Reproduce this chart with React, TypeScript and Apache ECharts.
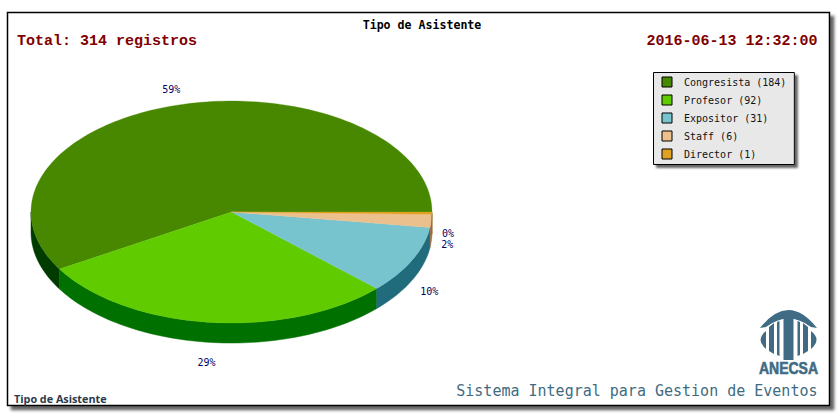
import React, { useEffect, useRef } from "react";
import * as echarts from "echarts";

const categories = ["Congresista", "Profesor", "Expositor", "Staff", "Director"];
const values = [184, 92, 31, 6, 1];
const topColors = ["#488800", "#60CC00", "#78C4CE", "#ECC08C", "#E0A020"];
const sideColors = ["#003C00", "#007000", "#206C7C", "#A07048", "#906010"];
const labelNudgeX = [-2, -1, 1, -2, -2];
const labelNudgeY = [2, 1, 2, 1, -1];
const titleText = "Tipo de Asistente";
const totalText = "Total: 314 registros";
const dateText = "2016-06-13 12:32:00";
const footerText = "Sistema Integral para Gestion de Eventos";
const captionText = "Tipo de Asistente";
const logoText = "ANECSA";

const LOGO_PATH =
  "M10 23 Q38.5 -13 67 23 L61 22 Q38.5 5 16 22 Z " +
  "M33.5 12 L43.5 12 L43.5 55 L33.5 55 Z " +
  "M16 26 Q5 34.5 16 44 Z M61 26 Q72 34.5 61 44 Z " +
  "M19 22 L24 18 L24 49 L19 46 Z M58 22 L53 18 L53 49 L58 46 Z " +
  "M27 17 L29.5 16 L29.5 51 L27 50 Z M50 17 L47.5 16 L47.5 51 L50 50 Z";

echarts.graphic.registerShape("anecsaLogo", (echarts.graphic as any).extendPath(LOGO_PATH, {}));

const CX = 231.5;
const CY = 212;
const RX = 200.5;
const RY = 111;
const DEPTH = 20;
const total = values.reduce((a, b) => a + b, 0);

function pt(deg: number, dy = 0): number[] {
  const a = (deg * Math.PI) / 180;
  return [CX + RX * Math.cos(a), CY - RY * Math.sin(a) + dy];
}

function arc(from: number, to: number, dy = 0): number[][] {
  const pts: number[][] = [];
  const n = Math.max(1, Math.ceil((to - from) / 1.5));
  for (let i = 0; i <= n; i++) pts.push(pt(from + ((to - from) * i) / n, dy));
  return pts;
}

function sliceRender(index: number) {
  const before = values.slice(0, index).reduce((a, b) => a + b, 0);
  const start = (before / total) * 360;
  const end = ((before + values[index]) / total) * 360;
  const mid = (start + end) / 2;
  return () => {
    const children: any[] = [];
    const sFrom = Math.max(start, 180);
    if (end > sFrom) {
      const upper = arc(sFrom, end);
      const lower = arc(sFrom, end, DEPTH).reverse();
      children.push({
        type: "polygon",
        shape: { points: upper.concat(lower) },
        style: { fill: sideColors[index], stroke: sideColors[index], lineWidth: 0.5 },
      });
    }
    children.push({
      type: "polygon",
      shape: { points: [[CX, CY]].concat(arc(start, end)) },
      style: { fill: topColors[index], stroke: topColors[index], lineWidth: 0.3 },
    });
    const a = (mid * Math.PI) / 180;
    const lx = pt(mid)[0] + 18 * Math.cos(a) + labelNudgeX[index];
    const ly = pt(mid)[1] - 18 * Math.sin(a) + (mid > 180 ? DEPTH + 1 : 0) + labelNudgeY[index];
    children.push({
      type: "text",
      x: lx,
      y: ly,
      style: {
        text: `${Math.round((values[index] / total) * 100)}%`,
        fill: "#000066",
        font: '10px "DejaVu Sans Mono"',
        align: "center",
        verticalAlign: "middle",
      },
    });
    return { type: "group", children };
  };
}

export default function App() {
  const ref = useRef<HTMLDivElement>(null);
  useEffect(() => {
    document.body.style.margin = "0";
    const chart = echarts.init(ref.current!, undefined, { renderer: "svg" });
    const mono = '"DejaVu Sans Mono"';
    chart.setOption({
      animation: false,
      backgroundColor: "#ffffff",
      legend: {
        orient: "vertical",
        left: 653.5,
        top: 72.5,
        padding: [4, 8, 5, 8],
        itemWidth: 10,
        itemHeight: 10,
        itemGap: 7,
        selectedMode: false,
        backgroundColor: "#E8E8E8",
        borderColor: "#000000",
        borderWidth: 1,
        borderRadius: 0,
        shadowColor: "rgba(60,60,60,0.8)",
        shadowBlur: 2,
        shadowOffsetX: 3,
        shadowOffsetY: 3,
        icon: "rect",
        itemStyle: { borderColor: "#000000", borderWidth: 1 },
        textStyle: { fontFamily: "DejaVu Sans Mono", fontSize: 10, color: "#111111", padding: [0, 0, 0, 7] },
        data: categories,
        formatter: (name: string) => `${name} (${values[categories.indexOf(name)]})`,
      },
      series: categories.map((name, i) => ({
        type: "custom",
        name,
        coordinateSystem: "none",
        itemStyle: { color: topColors[i] },
        data: [[values[i]]],
        renderItem: sliceRender(i),
        silent: true,
      })),
      graphic: [
        {
          type: "rect",
          z: -1,
          shape: { x: 7.5, y: 12.5, width: 822, height: 393 },
          style: {
            fill: "#ffffff",
            stroke: "#000000",
            lineWidth: 1.5,
            shadowColor: "rgba(70,70,70,0.85)",
            shadowBlur: 3,
            shadowOffsetX: 4,
            shadowOffsetY: 4,
          },
        },
        { type: "text", x: 422, y: 25, style: { text: titleText, fill: "#000", font: `bold 11.6px ${mono}`, align: "center", verticalAlign: "middle" } },
        { type: "text", x: 17, y: 41, style: { text: totalText, fill: "#800000", font: 'bold 15px "Liberation Mono"', verticalAlign: "middle" } },
        { type: "text", x: 817.5, y: 41, style: { text: dateText, fill: "#800000", font: 'bold 15px "Liberation Mono"', align: "right", verticalAlign: "middle" } },
        { type: "text", x: 817.5, y: 391, style: { text: footerText, fill: "#3F6B80", font: `15px ${mono}`, align: "right", verticalAlign: "middle" } },
        { type: "text", x: 14, y: 398, style: { text: captionText, fill: "#2A3A4A", font: 'bold 10.8px "Open Sans"', verticalAlign: "middle" } },
        { type: "anecsaLogo", x: 750, y: 305, style: { fill: "#3F6B85" } },
        { type: "text", x: 788.5, y: 368, scaleY: 1.2, style: { text: logoText, fill: "#3F6B85", stroke: "#3F6B85", lineWidth: 0.5, font: 'bold 14px "Liberation Sans"', align: "center", verticalAlign: "middle" } },
      ],
    });
    return () => chart.dispose();
  }, []);
  return <div ref={ref} style={{ width: 839, height: 417 }} />;
}
